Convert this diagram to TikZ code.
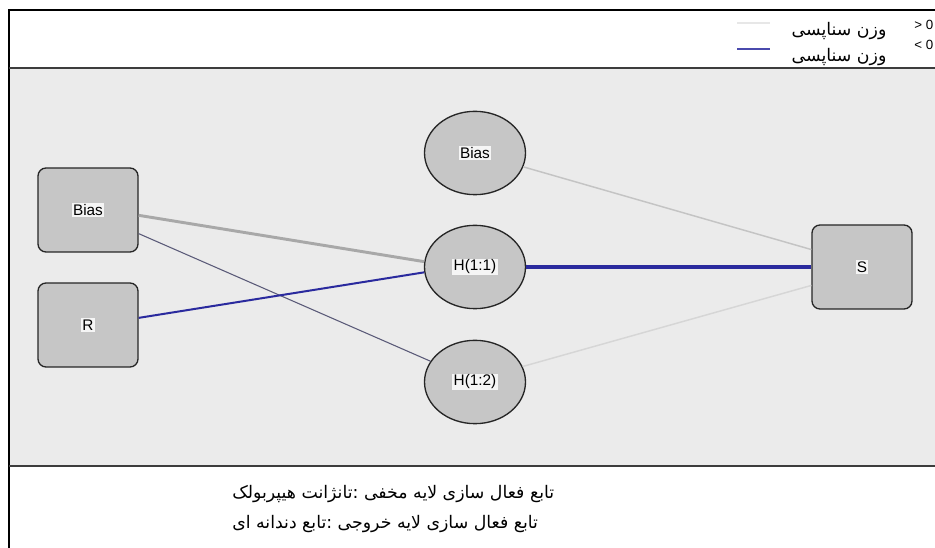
\documentclass[tikz,border=0pt]{standalone}
\usepackage{fontspec}
\setmainfont{Liberation Sans}
\newfontfamily\arabicfont[Script=Arabic]{DejaVu Sans}
\TeXXeTstate=1
\usetikzlibrary{shapes.geometric}
\definecolor{panelgray}{HTML}{EBEBEB}
\definecolor{nodegray}{HTML}{C6C6C6}
\definecolor{divgray}{HTML}{3C3C3C}
\definecolor{posedge}{HTML}{A8A8A8}
\definecolor{posedgelight}{HTML}{C4C4C4}
\definecolor{posedgefaint}{HTML}{D6D6D6}
\definecolor{thinedge}{HTML}{5A5A78}
\definecolor{negedge}{HTML}{2A2A9E}
\tikzset{
  unitbox/.style={draw=black!85, line width=1pt, rounded corners=6pt, fill=nodegray,
    minimum width=75pt, minimum height=63pt, inner sep=0pt},
  hidnode/.style={ellipse, draw=black!85, line width=1pt, fill=nodegray,
    minimum width=75.75pt, minimum height=62.5pt, inner sep=0pt},
  lbl/.style={fill=white!92!gray, inner sep=1pt, font=\fontsize{11.5}{13}\selectfont},
  divider/.style={draw=divgray, line width=2pt},
  frameline/.style={draw=black, line width=1.5pt},
  legtext/.style={anchor=east, inner sep=1pt, font=\arabicfont\fontsize{13}{15}\selectfont},
  foottext/.style={anchor=west, inner sep=0pt, font=\arabicfont\fontsize{13}{15}\selectfont}
}
\begin{document}
\begin{tikzpicture}[x=0.75pt,y=-0.75pt]
\useasboundingbox (0,0) rectangle (935,548);
\fill[white] (0,0) rectangle (935,548);
\fill[panelgray] (10,69) rectangle (935,466);
\draw[frameline] (9,548) -- (9,10) -- (935,10);
\draw[divider] (9,68) -- (935,68);
\draw[divider] (9,466) -- (935,466);

% nodes
\node[unitbox, label={[lbl]center:Bias}] (ib) at (88,210) {};
\node[unitbox, label={[lbl]center:R}] (ir) at (88,325) {};
\node[hidnode, label={[lbl]center:Bias}] (hb) at (475,153) {};
\node[hidnode, label={[lbl]center:H(1:1)}] (h1) at (475,267) {};
\node[hidnode, label={[lbl]center:H(1:2)}] (h2) at (475,382) {};
\node[unitbox, label={[lbl]center:S}] (out) at (862,267) {};

% connectors
\draw[posedge, line width=2.2pt] (ib.-6) -- (h1.174);
\draw[thinedge, line width=0.8pt] (ib.-25) -- (h2.155);
\draw[negedge, line width=1.5pt] (ir.8) -- (h1.186);
\draw[posedgelight, line width=1.1pt] (hb.-16) -- (out.161);
\draw[negedge, line width=3pt] (h1.east) -- (out.west);
\draw[posedgefaint, line width=1.1pt] (h2.18) -- (out.200);

% legend
\node[anchor=west, inner sep=0pt, font=\fontsize{10}{11}\selectfont] (gt) at (914,25) {> 0};
\node[anchor=west, inner sep=0pt, font=\fontsize{10}{11}\selectfont] (lt) at (914,45) {< 0};
\node[legtext] (w1) at (888,31) {\beginR وزن سناپسی\endR};
\node[legtext, fill=white] (w2) at (888,57) {\beginR وزن سناپسی\endR};
\coordinate (l1a) at (737,23);
\coordinate (l1b) at (770,23);
\coordinate (l2a) at (737,49);
\coordinate (l2b) at (770,49);
\draw[posedgefaint!60, line width=1.5pt] (l1a) -- (l1b);
\draw[negedge!85, line width=1.5pt] (l2a) -- (l2b);

% footer
\node[foottext] (f1) at (232,494) {\beginR تابع فعال سازی لایه مخفی :تانژانت هیپربولک\endR};
\node[foottext] (f2) at (232,524) {\beginR تابع فعال سازی لایه خروجی :تابع دندانه ای\endR};
\end{tikzpicture}
\end{document}
